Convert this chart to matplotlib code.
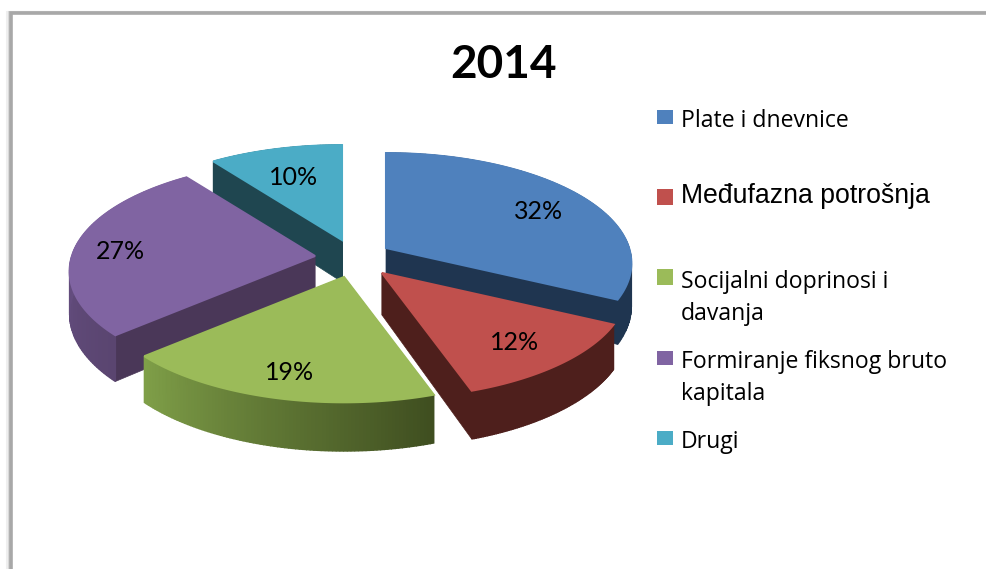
# Exploded 3D pie, 2014 budget shares. Slices are drawn by hand since
# matplotlib's pie has no depth or perspective.

import matplotlib
matplotlib.use("Agg")
import matplotlib.pyplot as plt
import matplotlib.colors as mcolors
import numpy as np

title = "2014"
categories = ["Plate i dnevnice", "Međufazna potrošnja", "Socijalni doprinosi i\ndavanja",
              "Formiranje fiksnog bruto\nkapitala", "Drugi"]
values = [32.4, 12.4, 18.6, 26.6, 10.0]

top_colors = ["#4F81BD", "#C0504D", "#9BBB59", "#8064A2", "#4BACC6"]
edge_colors = ["#1F3550", "#4E1F1C", "#4A5C28", "#4A3758", "#1F4650"]
arc_start = ["#1F3550", "#4E1F1C", "#3F4E20", "#5A4570", "#1F4650"]
arc_end = ["#1F3550", "#4E1F1C", "#7F9F48", "#6F5690", "#1F4650"]

# apex of each exploded slice, in pixels
apex_x = [386, 382, 344, 315, 342]
apex_y = [248, 273, 277, 256, 240]
label_x = [539, 515, 290, 120, 294]
label_y = [211, 342, 372, 251, 177]
draw_order = [4, 0, 3, 1, 2]

legend_y = [118, 196, 279, 359, 439]
swatch_top = [110, 189, 269, 351, 431]
swatch_h = [14, 16, 16, 14, 14]

RX, RY, PERSP, DEPTH = 243, 108, 0.138, 42

LABEL_FONT = "Lato"
LEGEND_FONT = "Open Sans"


def project(t, cx, cy):
    u, v = np.sin(t), np.cos(t)
    s = 1 / (1 + PERSP * v)
    return cx + RX * u * s, cy - RY * v * s, DEPTH * s


fig = plt.figure(figsize=(9.87, 5.69), dpi=100)
ax = fig.add_axes([0, 0, 1, 1])
ax.set_xlim(0, 987)
ax.set_ylim(569, 0)
ax.axis("off")

# chart frame with its soft shadow
for off, col, lw in [(-4, "#EFEFEF", 1.5), (-2.5, "#D8D8D8", 1.5), (0, "#A8A8A8", 2.6)]:
    ax.plot([11 + off, 11 + off, 990], [569, 13 + off * 0.3, 13 + off * 0.3], color=col, lw=lw,
            solid_joinstyle="miter", zorder=1)

fracs = np.array(values) / sum(values)
starts = 2 * np.pi * np.concatenate([[0], np.cumsum(fracs)[:-1]])
ends = starts + 2 * np.pi * fracs

for z, i in enumerate(draw_order):
    base = 10 + z * 5
    cx, cy = apex_x[i], apex_y[i]
    t = np.linspace(starts[i], ends[i], 90)
    x, y, d = project(t, cx, cy)

    # radial walls
    for k in [0, -1]:
        ax.fill([cx, x[k], x[k], cx], [cy, y[k], y[k] + d[k], cy + DEPTH],
                color=edge_colors[i], lw=0.5, zorder=base)

    # outer wall, split in strips for the shading
    c0, c1 = np.array(mcolors.to_rgb(arc_start[i])), np.array(mcolors.to_rgb(arc_end[i]))
    for k in range(len(t) - 1):
        col = c0 + (c1 - c0) * k / (len(t) - 2)
        ax.fill([x[k], x[k + 1], x[k + 1], x[k]], [y[k], y[k + 1], y[k + 1] + d[k + 1], y[k] + d[k]],
                color=col, lw=1.0, zorder=base + 1)

    # top face
    ax.fill(np.r_[cx, x], np.r_[cy, y], color=top_colors[i], lw=1.5, zorder=base + 2)

for i, val in enumerate(values):
    ax.text(label_x[i], label_y[i], f"{val:.0f}%", ha="center", va="center", fontsize=18,
            family=LABEL_FONT, color="black", zorder=50)

for i, name in enumerate(categories):
    ax.fill([657, 673, 673, 657], [swatch_top[i], swatch_top[i], swatch_top[i] + swatch_h[i], swatch_top[i] + swatch_h[i]],
            color=top_colors[i], lw=0, zorder=50)
    if i == 1:
        ax.text(681, legend_y[i], name, ha="left", va="center", fontsize=19.2,
                family="Liberation Sans", color="black", zorder=50)
    else:
        ax.text(681, legend_y[i] + 3 + (16 if "\n" in name else 0), name, ha="left", va="center", fontsize=16.6,
                family=LEGEND_FONT, color="black", linespacing=1.46, zorder=50)

ax.text(504, 65, title, ha="center", va="center", fontsize=33, fontweight="bold", family=LABEL_FONT, color="black", zorder=50)

fig.savefig("out.png", dpi=100)
